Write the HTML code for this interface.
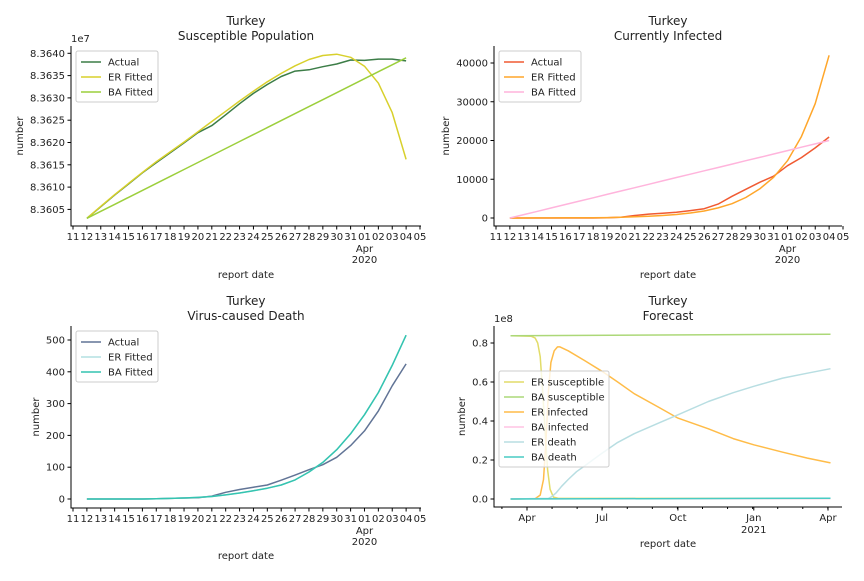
<!DOCTYPE html>
<html><head><meta charset="utf-8"><style>
body{margin:0;background:#fff;font-family:"Liberation Sans","DejaVu Sans",sans-serif}
svg text{font-family:"DejaVu Sans","Liberation Sans",sans-serif;fill:#222}
</style></head><body>
<svg id="c" width="864" height="576" xmlns="http://www.w3.org/2000/svg"></svg>
<script>
// ---- data ----
const dayLabels=["11","12","13","14","15","16","17","18","19","20","21","22","23","24","25","26","27","28","29","30","31","01","02","03","04","05"];
const susActual=[83603000,83605600,83608200,83610700,83613200,83615500,83617700,83619900,83622200,83623800,83626200,83628700,83631000,83633000,83634800,83636000,83636300,83637000,83637600,83638500,83638400,83638700,83638700,83638300];
const susER=[83603000,83605700,83608300,83610800,83613300,83615700,83617900,83620100,83622400,83624700,83627000,83629300,83631500,83633600,83635500,83637200,83638600,83639500,83639800,83639100,83637100,83633300,83626700,83616200];
const susBA=[83603000,83604565,83606130,83607695,83609260,83610825,83612390,83613955,83615520,83617085,83618650,83620215,83621780,83623345,83624910,83626475,83628040,83629605,83631170,83632735,83634300,83635865,83637430,83639000];
const infActual=[0,0,0,0,0,0,0,50,200,650,1000,1250,1500,1900,2400,3600,5600,7400,9200,10800,13500,15600,18100,20900];
const infER=[0,10,20,30,40,50,60,100,200,300,450,650,900,1300,1800,2600,3700,5300,7500,10500,14800,21000,29500,42000];
const infBA=[0,870,1740,2610,3480,4350,5220,6090,6960,7830,8700,9570,10440,11300,12170,13040,13910,14780,15650,16520,17390,18260,19130,20000];
const deaActual=[0,0,0,0,0,1,2,3,4,9,21,30,37,44,59,75,92,108,131,168,214,277,356,425];
const deaER=[0,0,0,0,0,1,2,3,5,8,13,19,26,34,44,60,85,115,155,205,265,335,420,515];
const deaBA=[0,0,0,0,0,1,2,3,5,8,13,19,26,34,44,60,85,115,155,205,265,335,420,515];
const fcERSDays=[0,25,30,33,36,39,42,45,48,52,58,388];
const fcERS=[0.837,0.835,0.825,0.8,0.73,0.55,0.35,0.15,0.05,0.01,0.003,0.003];
const fcERIDays=[0,30,36,40,43,46,49,53,57,60,70,90,111,130,150,180,203,240,270,295,330,360,388];
const fcERI=[0,0.002,0.02,0.1,0.3,0.55,0.7,0.76,0.78,0.78,0.76,0.71,0.655,0.6,0.54,0.47,0.415,0.36,0.31,0.278,0.24,0.21,0.185];
const fcERDDays=[0,46,50,55,62,70,80,90,111,130,150,180,203,240,270,295,330,360,388];
const fcERD=[0,0.003,0.012,0.03,0.065,0.1,0.14,0.17,0.235,0.29,0.335,0.39,0.432,0.5,0.545,0.578,0.62,0.645,0.668];
const fcBASDays=[0,388];
const fcBAS=[0.837,0.845];
const fcBAIDays=[0,388];
const fcBAI=[0.001,0.002];
const fcBADDays=[0,388];
const fcBAD=[0,0.004];
const fcTickLabels=["Apr","Jul","Oct","Jan","Apr"];
const fcTickDays=[20,111,203,295,385];

const S=document.getElementById('c');const NS='http://www.w3.org/2000/svg';
function el(t,a,p){const e=document.createElementNS(NS,t);for(const k in a)e.setAttribute(k,a[k]);(p||S).appendChild(e);return e;}
function txt(x,y,s,o,p){const e=el('text',Object.assign({x:x,y:y,'font-size':10,'text-anchor':'middle'},o||{}),p);e.textContent=s;return e;}
function line(pts,color,g){return el('polyline',{points:pts.map(p=>p[0].toFixed(1)+','+p[1].toFixed(1)).join(' '),fill:'none',stroke:color,'stroke-width':1.5,'stroke-linejoin':'round'},g);}

function panel(o){
 const g=el('g',{});
 
 
 const t1=txt(o.cx,o.ty,'Turkey',{'font-size':12},g);
 const t2=txt(o.cx,o.ty+15,o.title,{'font-size':12},g);
 const ax=el('path',{d:`M${o.L},${o.T}V${o.B}H${o.R}`,stroke:'#000','stroke-width':1,fill:'none'},g);
 
 o.yt.forEach(v=>{const y=o.ys(v);el('line',{x1:o.L-3.5,x2:o.L,y1:y,y2:y,stroke:'#000'},g);const t=txt(o.L-6,y+3.5,o.yf(v),{'text-anchor':'end'},g);});
 if(o.off){const t=txt(o.L,o.T-4,o.off,{'text-anchor':'start'},g);}
 const yl=txt(0,0,'number',{transform:`translate(${o.ylx},${(o.T+o.B)/2}) rotate(-90)`},g);
 const xl=txt((o.L+o.R)/2,o.xly,'report date',{},g);
 return g;
}
function dayPanel(o){
 const g=panel(o);
 const xs=i=>o.L+2+i*(347/25);
 dayLabels.forEach((s,i)=>{const x=xs(i);el('line',{x1:x,x2:x,y1:o.B,y2:o.B+3.5,stroke:'#000'},g);const t=txt(x,o.B+14,s,{},g);
  if(s==='01'){const a=txt(x,o.B+26,'Apr',{},g);const b=txt(x,o.B+37,'2020',{},g);}});
 o.series.forEach(s=>{const p=line(s.v.map((v,i)=>[xs(i+1),o.ys(v)]),s.c,g);});
 legend(o.L+5,o.T+5,o.series,g,82);
}
function legend(x,y,ser,g,w){
 const lg=el('g',{},g);
 el('rect',{x:x,y:y,width:w,height:ser.length*15+6,fill:'#fff','fill-opacity':0.8,stroke:'#ccc',rx:2},lg);
 ser.forEach((s,i)=>{const yy=y+11+i*15;el('line',{x1:x+5,x2:x+25,y1:yy,y2:yy,stroke:s.c,'stroke-width':1.5},lg);const t=txt(x+32,yy+3.5,s.l,{'text-anchor':'start'},lg);});
}
dayPanel({name:'susceptible-panel',L:71,R:421,T:46,B:226,cx:246,ty:25,title:'Susceptible Population',off:'1e7',ylx:23,xly:278,
 ys:v=>53.3+(83640000-v)/5000*22.3,yt:[83605000,83610000,83615000,83620000,83625000,83630000,83635000,83640000],yf:v=>(v/1e7).toFixed(4),
 series:[{n:'actual-line',l:'Actual',c:'#3c7d47',v:susActual},{n:'er-fitted-line',l:'ER Fitted',c:'#d8d02c',v:susER},{n:'ba-fitted-line',l:'BA Fitted',c:'#9ccf3c',v:susBA}]});
dayPanel({name:'infected-panel',L:494,R:842,T:46,B:226,cx:668,ty:25,title:'Currently Infected',ylx:449,xly:278,
 ys:v=>218-v*0.003875,yt:[0,10000,20000,30000,40000],yf:v=>String(v),
 series:[{n:'actual-line',l:'Actual',c:'#f05a32',v:infActual},{n:'er-fitted-line',l:'ER Fitted',c:'#ffa62a',v:infER},{n:'ba-fitted-line',l:'BA Fitted',c:'#ffb4dc',v:infBA}]});
dayPanel({name:'death-panel',L:71,R:421,T:326,B:508,cx:246,ty:305,title:'Virus-caused Death',ylx:39,xly:559,
 ys:v=>499-v*0.318,yt:[0,100,200,300,400,500],yf:v=>String(v),
 series:[{n:'actual-line',l:'Actual',c:'#617496',v:deaActual},{n:'er-fitted-line',l:'ER Fitted',c:'#b4e0e2',v:deaER},{n:'ba-fitted-line',l:'BA Fitted',c:'#34c4b0',v:deaBA}]});
(function(){
 const o={name:'forecast-panel',L:494,R:842,T:326,B:507,cx:668,ty:305,title:'Forecast',off:'1e8',ylx:465,xly:547,
  ys:v=>499-v*195,yt:[0,0.2,0.4,0.6,0.8],yf:v=>v.toFixed(1)};
 const g=panel(o);
 const xs=d=>510.5+d*0.8247;
 for(let m=-1;m<13;m++){const d=20+m*30.4;const x=xs(d);if(x<o.L||x>o.R)continue;el('line',{x1:x,x2:x,y1:o.B,y2:o.B+2,stroke:'#000'},g);}
 fcTickLabels.forEach((s,i)=>{const x=xs(fcTickDays[i]);el('line',{x1:x,x2:x,y1:o.B,y2:o.B+3.5,stroke:'#000'},g);const t=txt(x,o.B+14,s,{},g);});
 const y21=txt(xs(295),o.B+26,'2021',{},g);
 const ser=[{n:'er-susceptible-line',l:'ER susceptible',c:'#e2dc68',d:fcERSDays,v:fcERS},{n:'ba-susceptible-line',l:'BA susceptible',c:'#acd878',d:fcBASDays,v:fcBAS},
  {n:'er-infected-line',l:'ER infected',c:'#ffbc48',d:fcERIDays,v:fcERI},{n:'ba-infected-line',l:'BA infected',c:'#ffc4e4',d:fcBAIDays,v:fcBAI},
  {n:'er-death-line',l:'ER death',c:'#b8dee2',d:fcERDDays,v:fcERD},{n:'ba-death-line',l:'BA death',c:'#48ccc4',d:fcBADDays,v:fcBAD}];
 ser.forEach(s=>{const p=line(s.v.map((v,i)=>[xs(s.d[i]),o.ys(v)]),s.c,g);});
 legend(499,371,ser,g,110);
})();
</script>
</body></html>
